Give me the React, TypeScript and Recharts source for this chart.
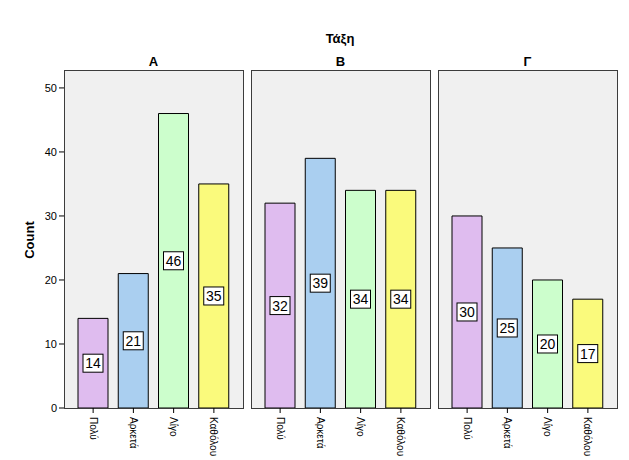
import React from 'react';
import { BarChart, Bar, XAxis, YAxis, Cell, LabelList } from 'recharts';

const categories = ['Πολύ', 'Αρκετά', 'Λίγο', 'Καθόλου'];
const panelNames = ['Α', 'Β', 'Γ'];
const classA = [14, 21, 46, 35];
const classB = [32, 39, 34, 34];
const classC = [30, 25, 20, 17];
const yTicks = [0, 10, 20, 30, 40, 50];

const barColors = ['#dfbcef', '#aacff0', '#ccfecc', '#fafa7c'];
const FONT = '"Liberation Sans", Arial, sans-serif';

const PANEL_X = [64, 251, 438];
const PANEL_W = 179;
const PLOT_TOP = 70;
const PLOT_BOTTOM = 408;

const seriesByPanel = [classA, classB, classC];

function ValueBox(props: any) {
  const { x, y, width, height, value } = props;
  const cx = x + width / 2;
  const cy = y + height / 2;
  const w = String(value).length * 8 + 4;
  return (
    <g>
      <rect x={cx - w / 2} y={cy - 9} width={w} height={18} fill="#fff" stroke="#000" strokeWidth={1} />
      <text x={cx} y={cy + 5} textAnchor="middle" fontSize={14} fontFamily={FONT} fill="#000">
        {value}
      </text>
    </g>
  );
}

function RotTick(props: any) {
  const { x, y, payload } = props;
  return (
    <text
      x={x}
      y={y + 2}
      transform={`rotate(90 ${x} ${y + 2})`}
      textAnchor="start"
      dominantBaseline="central"
      fontSize={10}
      fontFamily={FONT}
      fill="#000"
    >
      {payload.value}
    </text>
  );
}

function Panel({ idx }: { idx: number }) {
  const values = seriesByPanel[idx];
  const data = categories.map((c, i) => ({ cat: c, count: values[i] }));
  const first = idx === 0;
  const marginLeft = first ? 24 : 0;
  const yWidth = first ? 40 : 0;
  const left = PANEL_X[idx] - marginLeft - yWidth;
  return (
    <div style={{ position: 'absolute', left, top: 0 }}>
      <BarChart
        width={marginLeft + yWidth + PANEL_W + 1}
        height={460}
        data={data}
        margin={{ top: PLOT_TOP, right: 1, left: marginLeft, bottom: 2 }}
        barCategoryGap={0}
      >
        <XAxis
          dataKey="cat"
          padding={{ left: 9, right: 9 }}
          height={460 - PLOT_BOTTOM - 2}
          tick={<RotTick />}
          tickSize={5}
          tickLine={{ stroke: '#000' }}
          axisLine={false}
          interval={0}
        />
        <YAxis
          hide={!first}
          width={yWidth}
          domain={[0, 52.8]}
          ticks={yTicks}
          allowDataOverflow
          axisLine={false}
          tickLine={{ stroke: '#000' }}
          tickSize={5}
          tick={{ fontSize: 11, fill: '#000', fontFamily: FONT }}
        />
        <Bar dataKey="count" barSize={30} stroke="#000" strokeWidth={1} isAnimationActive={false}>
          {data.map((d, i) => (
            <Cell key={d.cat} fill={barColors[i]} />
          ))}
          <LabelList dataKey="count" content={<ValueBox />} />
        </Bar>
      </BarChart>
    </div>
  );
}

export default function App() {
  return (
    <div style={{ position: 'absolute', left: 0, top: 0, width: 629, height: 460, background: '#fff', overflow: 'hidden' }}>
      {PANEL_X.map((px) => (
        <div
          key={px}
          style={{
            position: 'absolute',
            left: px,
            top: PLOT_TOP,
            width: PANEL_W - 1,
            height: PLOT_BOTTOM - PLOT_TOP - 1,
            background: '#f0f0f0',
            border: '1px solid #3c3c3c',
          }}
        />
      ))}
      {panelNames.map((_, i) => (
        <Panel key={i} idx={i} />
      ))}
      <svg width={629} height={460} style={{ position: 'absolute', left: 0, top: 0, pointerEvents: 'none' }}>
        <text x={340} y={43} textAnchor="middle" fontSize={13} fontWeight="bold" fontFamily={FONT}>
          Τάξη
        </text>
        {panelNames.map((n, i) => (
          <text key={n} x={PANEL_X[i] + PANEL_W / 2} y={66} textAnchor="middle" fontSize={13} fontWeight="bold" fontFamily={FONT}>
            {n}
          </text>
        ))}
        <text x={34} y={240} transform="rotate(-90 34 240)" textAnchor="middle" fontSize={13} fontWeight="bold" fontFamily={FONT}>
          Count
        </text>
      </svg>
    </div>
  );
}
